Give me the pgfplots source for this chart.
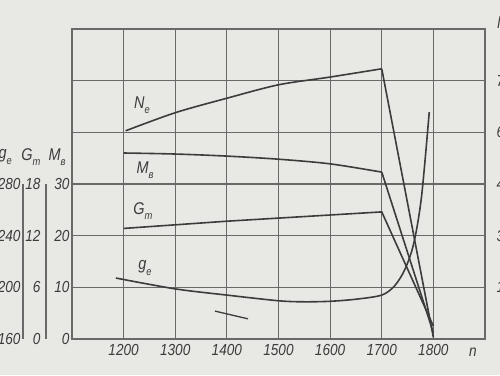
\documentclass[border=0pt]{standalone}
\usepackage{pgfplots}
\pgfplotsset{compat=1.18}
\usepackage{fontspec}
\setmainfont{Liberation Sans}[FakeStretch=0.85]
\definecolor{bg}{RGB}{232,232,229}
\definecolor{gridc}{RGB}{105,105,105}
\definecolor{curve}{RGB}{60,60,60}
\definecolor{txt}{RGB}{60,60,60}
\newcommand{\lbl}{\fontsize{16}{16}\selectfont\itshape}
\newcommand{\clbl}{\fontsize{17}{17}\selectfont\itshape}
\newcommand{\sub}[1]{\raisebox{-0.3em}{\fontsize{11}{11}\selectfont\itshape #1}}
\begin{document}
\begin{tikzpicture}[x=1pt,y=1pt]
\useasboundingbox (0,0) rectangle (500,375);
\fill[bg] (0,0) rectangle (500,375);
\clip (0,0) rectangle (500,375);
% main axis (M scale on the left)
\begin{axis}[
 at={(72pt,36pt)}, anchor=south west, scale only axis, width=413pt, height=310pt,
 xmin=1100, xmax=1900, ymin=0, ymax=60,
 xtick={1100,1200,...,1900}, xticklabels={,1200,1300,1400,1500,1600,1700,1800,},
 ytick={0,10,...,60}, yticklabels={0,10,20,30,,,},
 grid=major, major grid style={gridc, line width=1.2pt},
 axis line style={gridc, line width=1.2pt},
 major tick length=0pt,
 tick label style={txt, font=\lbl},
 /pgf/number format/assume math mode=true,
 xticklabel style={yshift=-2pt},
 yticklabel style={xshift=1pt},
 clip=false,
]
% N_e
\addplot[curve, line width=1.6pt, smooth] coordinates {
 (1204,40.3) (1300,43.8) (1400,46.6) (1500,49.2) (1600,50.7) (1700,52.3)};
\addplot[curve, line width=1.6pt] coordinates {(1700,52.3) (1800,0.3)};
% M
\addplot[curve, line width=1.6pt, smooth] coordinates {
 (1200,36.0) (1300,35.8) (1400,35.4) (1500,34.8) (1600,33.9) (1700,32.3)};
\addplot[curve, line width=1.6pt] coordinates {(1700,32.3) (1800,1.2)};
% G_T
\addplot[curve, line width=1.6pt] coordinates {
 (1200,21.4) (1400,22.8) (1700,24.6) (1800,2.5)};
% g_e
\addplot[curve, line width=1.6pt, smooth, tension=0.5] coordinates {
 (1185,11.8) (1300,9.7) (1400,8.5) (1500,7.4) (1550,7.2) (1600,7.3)
 (1650,7.7) (1700,8.5) (1725,10.3) (1745,13.5) (1762,18.5) (1777,27.5) (1792,43.9)};
% stray stroke
\addplot[curve, line width=1.3pt] coordinates {(1377,5.4) (1441,3.9)};
\end{axis}
% right N_e scale
\begin{axis}[
 at={(72pt,36pt)}, anchor=south west, scale only axis, width=413pt, height=310pt,
 xmin=1100, xmax=1900, ymin=0, ymax=90,
 hide x axis, axis y line*=right, axis line style={draw=none},
 ytick={15,30,45,60,75}, major tick length=0pt,
 yticklabel style={txt, font=\lbl, anchor=west, xshift=8pt},
 /pgf/number format/assume math mode=true,
]
\addplot[draw=none] coordinates {(1100,0)};
\end{axis}
% g_e scale
\begin{axis}[
 at={(23pt,36pt)}, anchor=south west, scale only axis, width=1pt, height=155pt,
 xmin=0, xmax=1, ymin=160, ymax=280,
 hide x axis, axis y line*=left, axis line style={gridc, line width=1.2pt, -},
 ytick={160,200,240,280}, major tick length=0pt,
 yticklabel style={txt, font=\lbl, xshift=1pt},
 /pgf/number format/assume math mode=true,
]
\addplot[draw=none] coordinates {(0,160)};
\end{axis}
% G_T scale
\begin{axis}[
 at={(46pt,36pt)}, anchor=south west, scale only axis, width=1pt, height=155pt,
 xmin=0, xmax=1, ymin=0, ymax=18,
 hide x axis, axis y line*=left, axis line style={gridc, line width=1.2pt, -},
 ytick={0,6,12,18}, major tick length=0pt,
 yticklabel style={txt, font=\lbl, xshift=-2pt},
 /pgf/number format/assume math mode=true,
]
\addplot[draw=none] coordinates {(0,0)};
\end{axis}
% headers
\node[txt, anchor=east, inner sep=0pt] at (12,218) {\clbl g\sub{e}};
\node[txt, inner sep=0pt] at (31,218) {\clbl G\sub{т}};
\node[txt, inner sep=0pt] at (57,218) {\clbl M\sub{в}};
% curve labels
\node[txt, inner sep=0pt] at (142,270) {\clbl N\sub{e}};
\node[txt, inner sep=0pt] at (145,205) {\clbl M\sub{в}};
\node[txt, inner sep=0pt] at (143,164) {\clbl G\sub{т}};
\node[txt, inner sep=0pt] at (145,107) {\clbl g\sub{e}};
% n label and top-right label
\node[txt, inner sep=0pt] at (473,23) {\lbl n};
\node[txt, anchor=west, inner sep=0pt] at (497,350) {\clbl N\sub{e}};
\end{tikzpicture}
\end{document}
